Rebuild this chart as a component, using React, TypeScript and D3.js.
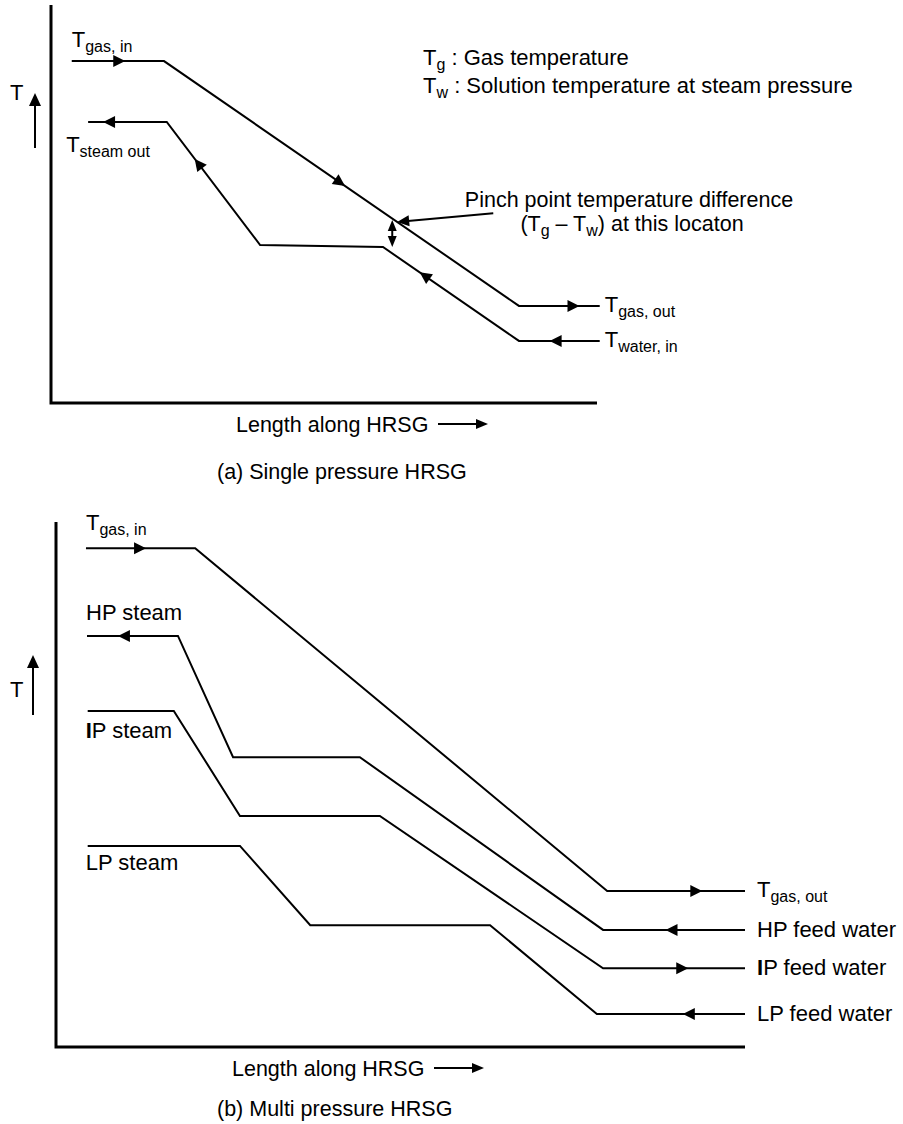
import React from 'react';
import * as d3 from 'd3';

const FONT = "'Liberation Sans', Arial, Helvetica, sans-serif";

// ---------- Panel (a): single pressure HRSG (length 0-100, temperature 0-100) ----------
const A_GAS_X = [3.8, 20.7, 85.7, 100.5];
const A_GAS_T = [85.9, 85.9, 24.4, 24.4];
const A_WATER_X = [6.8, 21.2, 38.3, 60.8, 85.7, 100.5];
const A_WATER_T = [70.6, 70.6, 39.7, 39.2, 15.6, 15.6];
// arrows: [series, segment, fraction, reversed]
const A_ARROWS: [string, number, number, boolean][] = [
  ['gas', 0, 0.58, false],
  ['gas', 1, 0.51, false],
  ['gas', 2, 0.75, false],
  ['water', 0, 0.19, true],
  ['water', 1, 0.3, true],
  ['water', 3, 0.27, true],
  ['water', 4, 0.38, true],
];
const A_PINCH_TIP = [63.4, 45.5];
const A_PINCH_TAIL = [81.0, 47.7];
const A_PINCH_GAP = [62.5, 46.0, 39.2]; // x, T upper, T lower
const A_LEGEND = [
  ['T', 'g', ' : Gas temperature'],
  ['T', 'w', ' : Solution temperature at steam pressure'],
];
const A_PINCH_TEXT = ['Pinch point temperature difference', 'at this locaton'];

// ---------- Panel (b): multi pressure HRSG ----------
const B_GAS_X = [4.35, 20.2, 80.0, 100];
const B_GAS_T = [95.0, 95.0, 29.7, 29.7];
const B_HP_X = [4.5, 17.7, 25.7, 44.1, 79.4, 100];
const B_HP_T = [78.3, 78.3, 55.2, 55.2, 22.3, 22.3];
const B_IP_X = [4.6, 17.1, 26.7, 47.0, 79.4, 100];
const B_IP_T = [64.0, 64.0, 44.0, 44.0, 15.0, 15.0];
const B_LP_X = [4.6, 26.7, 36.9, 63.0, 78.5, 100];
const B_LP_T = [38.3, 38.3, 23.2, 23.2, 6.3, 6.3];
const B_ARROWS: [string, number, number, boolean][] = [
  ['gas', 0, 0.55, false],
  ['gas', 2, 0.69, false],
  ['hp', 0, 0.34, true],
  ['hp', 4, 0.44, true],
  ['ip', 4, 0.6, false],
  ['lp', 4, 0.58, true],
];
const B_RIGHT_LABELS = ['HP feed water', 'IP feed water', 'LP feed water'];
const B_LEFT_LABELS = ['HP steam', 'IP steam', 'LP steam'];

const AXIS_LABEL = 'Length along HRSG';
const CAPTIONS = ['(a) Single pressure HRSG', '(b) Multi pressure HRSG'];

const W = 903;
const H = 1124;
const FS = 22;
const FS_SMALL = 21.5;
const FS_SUB = 16;

const xA = d3.scaleLinear().domain([0, 100]).range([51, 597]);
const yA = d3.scaleLinear().domain([0, 100]).range([403, 5]);
const xB = d3.scaleLinear().domain([0, 100]).range([56, 745]);
const yB = d3.scaleLinear().domain([0, 100]).range([1047, 522]);

type Pt = [number, number];

function pts(xs: number[], ts: number[], xs_: any, ys_: any): Pt[] {
  return xs.map((x, i) => [xs_(x), ys_(ts[i])] as Pt);
}

const line = d3.line<Pt>().x((d) => d[0]).y((d) => d[1]);

function Head({ x, y, angle, len = 12, half = 6 }: { x: number; y: number; angle: number; len?: number; half?: number }) {
  return (
    <path
      d={`M0,0 L${-len},${-half} L${-len},${half} Z`}
      transform={`translate(${x},${y}) rotate(${angle})`}
      fill="#000"
    />
  );
}

function segArrow(p: Pt[], seg: number, t: number, rev: boolean, key: string) {
  const a = p[seg];
  const b = p[seg + 1];
  const x = a[0] + (b[0] - a[0]) * t;
  const y = a[1] + (b[1] - a[1]) * t;
  let ang = (Math.atan2(b[1] - a[1], b[0] - a[0]) * 180) / Math.PI;
  if (rev) ang += 180;
  return <Head key={key} x={x} y={y} angle={ang} />;
}

function Sub({ x, y, main, sub, size = FS, subSize = FS_SUB, anchor = 'start', rest }: any) {
  return (
    <text x={x} y={y} fontFamily={FONT} fontSize={size} textAnchor={anchor} style={{ whiteSpace: 'pre' }}>
      <tspan>{main}</tspan>
      <tspan fontSize={subSize} dy={5}>{sub}</tspan>
      {rest ? <tspan dy={-5}>{rest}</tspan> : null}
    </text>
  );
}

function IPText({ x, y, text }: { x: number; y: number; text: string }) {
  if (text.startsWith('I')) {
    return (
      <text x={x} y={y} fontFamily={FONT} fontSize={FS}>
        <tspan fontWeight="bold">I</tspan>
        <tspan>{text.slice(1)}</tspan>
      </text>
    );
  }
  return (
    <text x={x} y={y} fontFamily={FONT} fontSize={FS}>
      {text}
    </text>
  );
}

export default function App() {
  const aGas = pts(A_GAS_X, A_GAS_T, xA, yA);
  const aWater = pts(A_WATER_X, A_WATER_T, xA, yA);
  const aSeries: Record<string, Pt[]> = { gas: aGas, water: aWater };

  const bGas = pts(B_GAS_X, B_GAS_T, xB, yB);
  const bHP = pts(B_HP_X, B_HP_T, xB, yB);
  const bIP = pts(B_IP_X, B_IP_T, xB, yB);
  const bLP = pts(B_LP_X, B_LP_T, xB, yB);
  const bSeries: Record<string, Pt[]> = { gas: bGas, hp: bHP, ip: bIP, lp: bLP };
  const bWaters = [bHP, bIP, bLP];

  const tip: Pt = [xA(A_PINCH_TIP[0]), yA(A_PINCH_TIP[1])];
  const tail: Pt = [xA(A_PINCH_TAIL[0]), yA(A_PINCH_TAIL[1])];
  const pAng = (Math.atan2(tip[1] - tail[1], tip[0] - tail[0]) * 180) / Math.PI;
  const gx = xA(A_PINCH_GAP[0]);
  const gy1 = yA(A_PINCH_GAP[1]);
  const gy2 = yA(A_PINCH_GAP[2]);

  const stroke = { fill: 'none', stroke: '#000', strokeWidth: 2 };

  const lenAxis = (x0: number, yAxis: number, key: string) => (
    <g key={key}>
      <text x={x0} y={yAxis + 29} fontFamily={FONT} fontSize={FS_SMALL}>
        {AXIS_LABEL}
      </text>
      <line x1={x0 + 202} x2={x0 + 245} y1={yAxis + 21} y2={yAxis + 21} stroke="#000" strokeWidth={2} />
      <Head x={x0 + 252} y={yAxis + 21} angle={0} len={12} half={5} />
    </g>
  );

  const tArrow = (x: number, yTop: number, yBot: number, tx: number, ty: number, key: string) => (
    <g key={key}>
      <text x={tx} y={ty} fontFamily={FONT} fontSize={FS}>T</text>
      <line x1={x} x2={x} y1={yBot} y2={yTop + 8} stroke="#000" strokeWidth={2} />
      <Head x={x} y={yTop} angle={-90} len={13} half={6} />
    </g>
  );

  return (
    <svg
      width={W}
      height={H}
      style={{ position: 'absolute', left: 0, top: 0, display: 'block', background: '#fff' }}
    >
      <rect x={0} y={0} width={W} height={H} fill="#fff" />

      {/* ---------- Panel (a) ---------- */}
      <path d={`M${xA(0)},${yA(100)} V${yA(0)} H${xA(100)}`} fill="none" stroke="#000" strokeWidth={3} />
      {tArrow(35, 93, 148, 10, 100, 'ta')}
      <path d={line(aGas) || ''} {...stroke} />
      <path d={line(aWater) || ''} {...stroke} />
      {A_ARROWS.map(([s, seg, t, rev], i) => segArrow(aSeries[s], seg, t, rev, 'aa' + i))}

      <Sub x={aGas[0][0]} y={aGas[0][1] - 14} main="T" sub="gas, in" />
      <Sub x={aWater[0][0] - 22} y={aWater[0][1] + 30} main="T" sub="steam out" />
      <Sub x={aGas[3][0] + 5} y={aGas[3][1] + 6} main="T" sub="gas, out" />
      <Sub x={aWater[5][0] + 5} y={aWater[5][1] + 6} main="T" sub="water, in" />

      {A_LEGEND.map((l, i) => (
        <Sub key={'lg' + i} x={423} y={65 + i * 28} main={l[0]} sub={l[1]} rest={l[2]} />
      ))}

      {/* pinch annotation */}
      <line x1={tail[0]} y1={tail[1]} x2={tip[0] - 8 * Math.cos((pAng * Math.PI) / 180)} y2={tip[1] - 8 * Math.sin((pAng * Math.PI) / 180)} stroke="#000" strokeWidth={2} />
      <Head x={tip[0]} y={tip[1]} angle={pAng} len={12} half={5.5} />
      <line x1={gx} x2={gx} y1={gy1 + 6} y2={gy2 - 6} stroke="#000" strokeWidth={2} />
      <Head x={gx} y={gy1} angle={-90} len={11} half={4.5} />
      <Head x={gx} y={gy2} angle={90} len={11} half={4.5} />
      <text x={629} y={207} fontFamily={FONT} fontSize={FS_SMALL} textAnchor="middle">
        {A_PINCH_TEXT[0]}
      </text>
      <text x={632} y={231} fontFamily={FONT} fontSize={FS_SMALL} textAnchor="middle" style={{ whiteSpace: 'pre' }}>
        <tspan>(T</tspan>
        <tspan fontSize={FS_SUB} dy={5}>g</tspan>
        <tspan dy={-5}> – T</tspan>
        <tspan fontSize={FS_SUB} dy={5}>w</tspan>
        <tspan dy={-5}>) {A_PINCH_TEXT[1]}</tspan>
      </text>

      {lenAxis(236, yA(0), 'la')}
      <text x={217} y={479} fontFamily={FONT} fontSize={FS_SMALL}>
        {CAPTIONS[0]}
      </text>

      {/* ---------- Panel (b) ---------- */}
      <path d={`M${xB(0)},${yB(100)} V${yB(0)} H${xB(100)}`} fill="none" stroke="#000" strokeWidth={3} />
      {tArrow(33, 655, 715, 10, 697, 'tb')}
      {[bGas, bHP, bIP, bLP].map((p, i) => (
        <path key={'bl' + i} d={line(p) || ''} {...stroke} />
      ))}
      {B_ARROWS.map(([s, seg, t, rev], i) => segArrow(bSeries[s], seg, t, rev, 'ba' + i))}

      <Sub x={bGas[0][0]} y={bGas[0][1] - 18} main="T" sub="gas, in" />
      <Sub x={bGas[3][0] + 12} y={bGas[3][1] + 6} main="T" sub="gas, out" />
      {bWaters.map((p, i) => (
        <IPText key={'rl' + i} x={p[5][0] + 12} y={p[5][1] + 7} text={B_RIGHT_LABELS[i]} />
      ))}
      <IPText x={bHP[0][0] - 1} y={bHP[0][1] - 16} text={B_LEFT_LABELS[0]} />
      <IPText x={bIP[0][0] - 2} y={bIP[0][1] + 27} text={B_LEFT_LABELS[1]} />
      <IPText x={bLP[0][0] - 2} y={bLP[0][1] + 24} text={B_LEFT_LABELS[2]} />

      {lenAxis(232, yB(0), 'lb')}
      <text x={217} y={1116} fontFamily={FONT} fontSize={FS_SMALL}>
        {CAPTIONS[1]}
      </text>
    </svg>
  );
}
